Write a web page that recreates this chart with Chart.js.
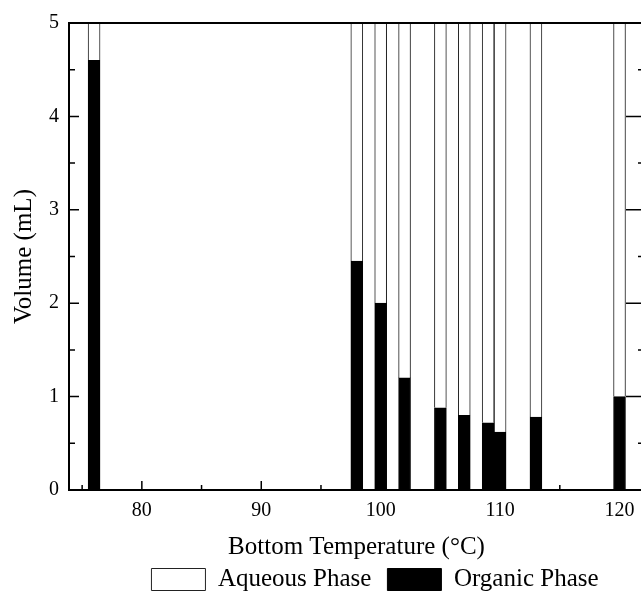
<!DOCTYPE html>
<html>
<head>
<meta charset="utf-8">
<script src="https://cdn.jsdelivr.net/npm/chart.js@4.4.1/dist/chart.umd.min.js"></script>
<style>
    html, body { margin: 0; padding: 0; background: #fff; overflow: hidden; }
    #wrap { position: relative; width: 648px; height: 602px; }
</style>
</head>
<body>
<div id="wrap"><canvas id="phaseChart"></canvas></div>
<script>
// bottom temperatures (°C) of the runs
const temps = [76, 98, 100, 102, 105, 107, 109, 110, 113, 120];
// organic phase volume (mL), black part of each bar
const organicVol = [4.6, 2.45, 2.0, 1.2, 0.88, 0.8, 0.72, 0.62, 0.78, 1.0];
// aqueous phase volume (mL), stacked on top - runs past the 5 mL axis limit
const aqueousVol = [1.6, 5.8, 6.3, 7.2, 7.6, 7.7, 7.8, 7.9, 7.7, 7.5];

const xTicks = [80, 90, 100, 110, 120];
const xMinor = [75, 85, 95, 105, 115];
const yTicks = [0, 1, 2, 3, 4, 5];
const yMinor = [0.5, 1.5, 2.5, 3.5, 4.5];

const LEGEND_SHIFT = 53; // legend sits right of centre in the original

Chart.defaults.font.family = "'Liberation Serif', 'Times New Roman', serif";
Chart.defaults.color = '#000';

// frame + inward ticks (left, right, bottom), like the origin-style plot
const framePlugin = {
    id: 'frameTicks',
    afterDraw(chart) {
        const { ctx, chartArea: a, scales } = chart;
        const xs = scales.x, ys = scales.y;
        ctx.save();
        ctx.strokeStyle = '#000';
        ctx.lineWidth = 2;
        ctx.strokeRect(a.left, a.top, a.right - a.left, a.bottom - a.top);

        ctx.lineWidth = 1.5;
        ctx.beginPath();
        const tick = (x1, y1, x2, y2) => { ctx.moveTo(x1, y1); ctx.lineTo(x2, y2); };
        xTicks.forEach(v => { const px = xs.getPixelForValue(v); tick(px, a.bottom, px, a.bottom - 9); });
        xMinor.forEach(v => { const px = xs.getPixelForValue(v); tick(px, a.bottom, px, a.bottom - 5); });
        yTicks.forEach(v => {
            const py = ys.getPixelForValue(v);
            tick(a.left, py, a.left + 10, py);
            tick(a.right, py, a.right - 18, py);
        });
        yMinor.forEach(v => {
            const py = ys.getPixelForValue(v);
            tick(a.left, py, a.left + 6, py);
            tick(a.right, py, a.right - 6, py);
        });
        ctx.stroke();
        ctx.restore();
    },
    afterLayout(chart) {
        if (chart.legend) {
            chart.legend.left += LEGEND_SHIFT;
            chart.legend.right += LEGEND_SHIFT;
        }
    }
};

const ctx = document.getElementById('phaseChart').getContext('2d');

new Chart(ctx, {
    type: 'bar',
    data: {
        datasets: [
            {
                label: 'Organic Phase',
                data: temps.map((t, i) => ({ x: t, y: organicVol[i] })),
                backgroundColor: '#000',
                borderColor: '#000',
                borderWidth: 1,
                barPercentage: 1,
                categoryPercentage: 1
            },
            {
                label: 'Aqueous Phase',
                data: temps.map((t, i) => ({ x: t, y: aqueousVol[i] })),
                backgroundColor: '#fff',
                borderColor: '#222',
                borderWidth: 1,
                barPercentage: 1,
                categoryPercentage: 1
            }
        ]
    },
    options: {
        responsive: true,
        maintainAspectRatio: false,
        animation: false,
        layout: {
            padding: { top: 23, left: 0, right: 4, bottom: 0 }
        },
        scales: {
            x: {
                type: 'linear',
                stacked: true,
                offset: false,
                min: 73.9,
                max: 122.05,
                grid: { display: false, drawTicks: false },
                border: { display: false },
                afterBuildTicks: (scale) => { scale.ticks = xTicks.map(v => ({ value: v })); },
                ticks: { padding: 9, font: { size: 20 }, color: '#000' },
                title: {
                    display: true,
                    text: 'Bottom Temperature (°C)',
                    font: { size: 25 },
                    color: '#000',
                    padding: { top: 0, bottom: -11 }
                }
            },
            y: {
                stacked: true,
                min: 0,
                max: 5,
                grid: { display: false, drawTicks: false },
                border: { display: false },
                afterBuildTicks: (scale) => { scale.ticks = yTicks.map(v => ({ value: v })); },
                ticks: { padding: 10, font: { size: 20 }, color: '#000' },
                title: {
                    display: true,
                    text: 'Volume (mL)',
                    font: { size: 25 },
                    color: '#000',
                    padding: { top: 9, bottom: 0 }
                }
            }
        },
        plugins: {
            legend: {
                position: 'bottom',
                reverse: true,
                labels: {
                    boxWidth: 54,
                    boxHeight: 22,
                    padding: 16,
                    font: { size: 25 },
                    color: '#000'
                }
            },
            tooltip: { enabled: false }
        }
    },
    plugins: [framePlugin]
});
</script>
</body>
</html>
